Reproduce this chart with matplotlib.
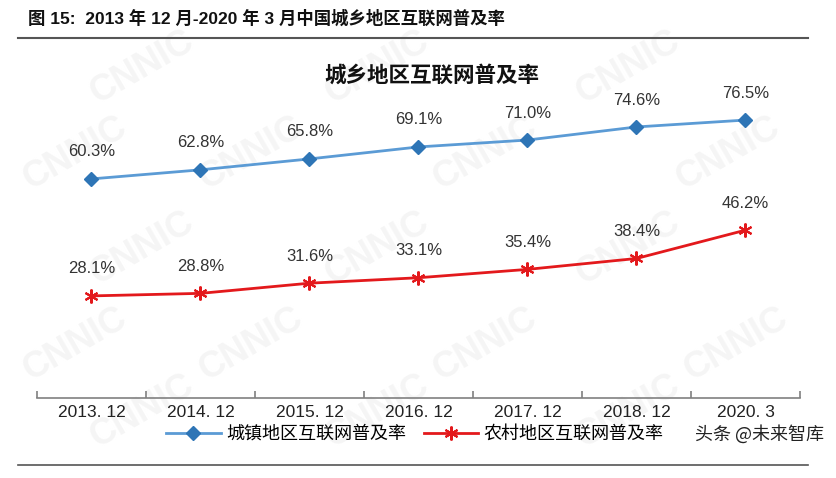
import matplotlib
matplotlib.use("Agg")
import matplotlib.pyplot as plt
from matplotlib.lines import Line2D

plt.rcParams['font.family'] = ['Liberation Sans', 'Noto Sans CJK SC', 'DejaVu Sans']

categories = ["2013. 12", "2014. 12", "2015. 12", "2016. 12", "2017. 12", "2018. 12", "2020. 3"]
urban = [60.3, 62.8, 65.8, 69.1, 71.0, 74.6, 76.5]
rural = [28.1, 28.8, 31.6, 33.1, 35.4, 38.4, 46.2]
urban_name = "城镇地区互联网普及率"
rural_name = "农村地区互联网普及率"
chart_title = "城乡地区互联网普及率"
header = "图 15:  2013 年 12 月-2020 年 3 月中国城乡地区互联网普及率"

W, H = 837, 478
fig = plt.figure(figsize=(W/100, H/100), dpi=100)

# faint watermarks (behind everything)
wm_ax = fig.add_axes([0, 0, 1, 1], zorder=-5)
wm_ax.set_axis_off()
for (wx, wy) in [(0.17, 0.86), (0.45, 0.86), (0.75, 0.86), (0.09, 0.68), (0.30, 0.68), (0.58, 0.68),
                 (0.87, 0.68), (0.17, 0.48), (0.45, 0.48), (0.75, 0.48), (0.09, 0.28), (0.30, 0.28),
                 (0.58, 0.28), (0.88, 0.28), (0.17, 0.14), (0.45, 0.14), (0.75, 0.14)]:
    wm_ax.text(wx, wy, "CNNIC", fontsize=26, fontweight='bold', color='#f5f5f5', rotation=30,
               ha='center', va='center', transform=wm_ax.transAxes)

ax = fig.add_axes([37/W, 1 - 398/H, (800-37)/W, (398-71)/H])
ax.set_facecolor('none')
x = list(range(len(categories)))

ax.plot(x, urban, color='#5B9BD5', lw=2, marker='D', markersize=7,
        markerfacecolor='#2E75B6', markeredgecolor='#2E75B6', zorder=3)
ax.plot(x, rural, color='#E3191C', lw=2, marker=(6, 2, 0), markersize=10,
        markeredgewidth=1.5, markeredgecolor='#E3191C', zorder=3)

for i in x:
    ax.annotate(f"{urban[i]:.1f}%", (i, urban[i]), xytext=(0, 14), textcoords='offset points',
                ha='center', va='bottom', fontsize=12, color='#333333')
    ax.annotate(f"{rural[i]:.1f}%", (i, rural[i]), xytext=(0, 14), textcoords='offset points',
                ha='center', va='bottom', fontsize=12, color='#333333')

ax.set_xlim(-0.5, len(categories) - 0.5)
ax.set_ylim(0, 90)
for s in ['top', 'right', 'left']:
    ax.spines[s].set_visible(False)
ax.spines['bottom'].set_color('#808080')
ax.spines['bottom'].set_linewidth(1.2)
ax.set_yticks([])
ax.set_xticks([i - 0.5 for i in range(len(categories) + 1)])
ax.set_xticklabels([])
ax.set_xticks(x, minor=True)
ax.set_xticklabels(categories, minor=True, fontsize=12.5, color='#222222',
                   family=['Liberation Sans Narrow', 'Liberation Sans', 'DejaVu Sans'])
ax.tick_params(axis='x', which='major', direction='in', length=5, color='#808080', width=1.2)
ax.tick_params(axis='x', which='minor', length=0, pad=5)

fig.text(432 / W, 1 - 75/H, chart_title, fontsize=15.5, fontweight='bold',
         family=['Noto Sans CJK SC'], color='#111111', ha='center', va='center')

handles = [Line2D([], [], color='#5B9BD5', lw=2, marker='D', markersize=7,
                  markerfacecolor='#2E75B6', markeredgecolor='#2E75B6'),
           Line2D([], [], color='#E3191C', lw=2, marker=(6, 2, 0), markersize=10,
                  markeredgewidth=1.5)]
leg = fig.legend(handles, [urban_name, rural_name], loc='center', bbox_to_anchor=(415/W, 1 - 434/H),
                 ncol=2, frameon=False, prop={'family': 'Noto Sans CJK SC', 'size': 13},
                 handlelength=3, columnspacing=1.0, handletextpad=0.3)

fig.text(824/W, 1 - 434/H, "头条 @未来智库", fontsize=13, color='#222222',
         family=['Noto Sans CJK SC'], ha='right', va='center')

fig.text(28/W, 1 - 18/H, header, fontsize=12.5, fontweight='bold', color='#111111',
         family=['Liberation Sans', 'Noto Sans CJK SC'], ha='left', va='center')
fig.add_artist(Line2D([18/W, 808/W], [1 - 38/H, 1 - 38/H], color='#555555', lw=1.5))
fig.add_artist(Line2D([18/W, 808/W], [1 - 465/H, 1 - 465/H], color='#555555', lw=1.2))

fig.savefig("out.png", dpi=100)
